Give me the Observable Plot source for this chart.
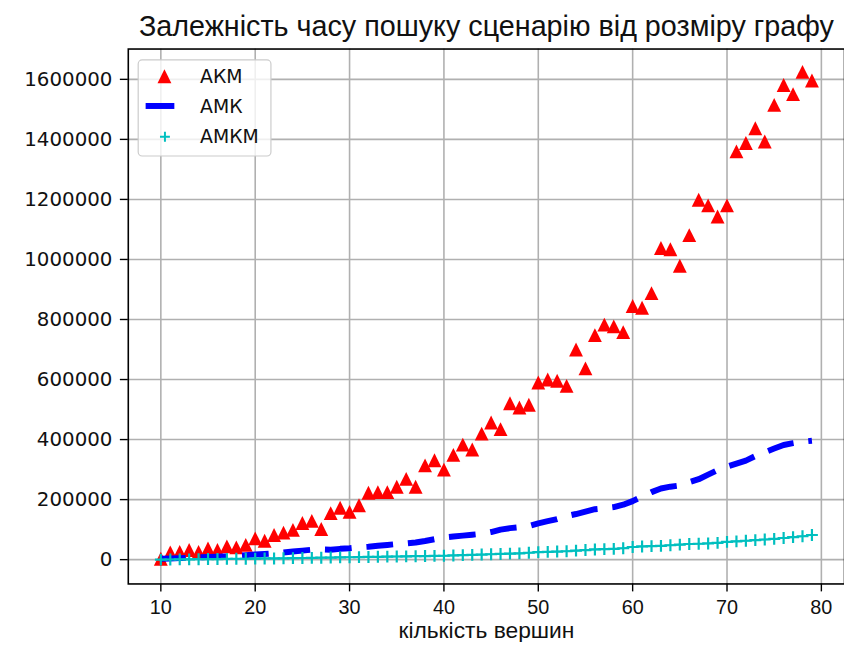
<!DOCTYPE html>
<html><head><meta charset="utf-8">
<script src="https://cdn.jsdelivr.net/npm/d3@7"></script>
<script src="https://cdn.jsdelivr.net/npm/@observablehq/plot@0.6"></script>
<style>
html,body{margin:0;padding:0;background:#fff;overflow:hidden;width:844px;height:648px}
#chart{width:844px;height:648px;overflow:hidden}
</style></head><body><div id="chart"></div>
<script>
const title = "Залежність часу пошуку сценарію від розміру графу";
const xLabel = "кількість вершин";
const seriesNames = ["АКМ", "АМК", "АМКМ"];
const xTicks = [10, 20, 30, 40, 50, 60, 70, 80];
const yTicks = [0, 200000, 400000, 600000, 800000, 1000000, 1200000, 1400000, 1600000];

const vertices = [10,11,12,13,14,15,16,17,18,19,20,21,22,23,24,25,26,27,28,29,
  30,31,32,33,34,35,36,37,38,39,40,41,42,43,44,45,46,47,48,49,
  50,51,52,53,54,55,56,57,58,59,60,61,62,63,64,65,66,67,68,69,
  70,71,72,73,74,75,76,77,78,79];

const akm = [3000,24000,26000,32000,26000,37000,32000,44000,41000,49000,
  71000,63000,82000,90000,99000,122000,129000,102000,155000,173000,
  159000,181000,223000,225000,225000,243000,269000,243000,314000,331000,
  300000,349000,383000,367000,420000,457000,435000,521000,507000,516000,
  590000,600000,596000,579000,700000,637000,748000,783000,777000,758000,
  845000,839000,888000,1038000,1034000,979000,1081000,1199000,1180000,1143000,
  1180000,1360000,1388000,1437000,1393000,1515000,1581000,1551000,1625000,1596000];

const amk = [3000,4000,5000,6000,8000,9000,10000,11000,13000,15000,
  17000,19000,21000,24000,27000,30000,33000,34000,33000,36000,
  38000,41000,43000,46000,49000,52000,54000,57000,62000,68000,
  74000,77000,80000,83000,86000,92000,100000,105000,108000,112000,
  121000,128000,135000,145000,152000,160000,168000,171000,175000,183000,
  195000,210000,225000,237000,243000,247000,258000,268000,283000,298000,
  310000,320000,330000,345000,358000,370000,382000,388000,393000,396000];

const amkm = [0,500,1000,1000,1500,2000,2000,2500,3000,3000,
  3500,4000,4000,4500,5000,5500,6000,6500,7000,7500,
  8000,8500,9000,9500,10000,10500,11000,11500,12000,12500,
  13000,14000,15000,16000,17000,18000,19000,20000,21000,23000,
  25000,26000,27000,28000,30000,32000,34000,35000,36000,38000,
  42000,44000,45000,46000,48000,50000,52000,53000,54000,56000,
  59000,61000,63000,65000,67000,69000,72000,75000,78000,82000];

const rows = vertices.map((v, i) => ({v, akm: akm[i], amk: amk[i], amkm: amkm[i]}));

const RED = "#ff0000", BLUE = "#0000ff", CYAN = "#00bfbf";

// matplotlib-like markers
const triUp = {draw(ctx, size) { const h = Math.sqrt(size) / 2; ctx.moveTo(0, -h); ctx.lineTo(h, h); ctx.lineTo(-h, h); ctx.closePath(); }};
const plusM = {draw(ctx, size) { const h = Math.sqrt(size) / 2; ctx.moveTo(-h, 0); ctx.lineTo(h, 0); ctx.moveTo(0, -h); ctx.lineTo(0, h); }};
const rFor = (px) => Math.sqrt(px * px / Math.PI);
const TRI = 14, PLUS = 12;

const tickFont = "DejaVu Sans, sans-serif";
const xFont = "Liberation Sans, Arial, sans-serif";

const chart = Plot.plot({
  width: 852,
  height: 648,
  marginLeft: 129,
  marginRight: 0,
  marginTop: 49,
  marginBottom: 59,
  style: {fontFamily: tickFont, fontSize: "19px", color: "#111", background: "#fff"},
  x: {domain: [6.55, 82.45], ticks: xTicks},
  y: {domain: [-81000, 1701000], ticks: yTicks},
  marks: [
    Plot.gridX(xTicks, {stroke: "#b0b0b0", strokeOpacity: 1, strokeWidth: 1.6}),
    Plot.gridY(yTicks, {stroke: "#b0b0b0", strokeOpacity: 1, strokeWidth: 1.6}),
    Plot.axisY(yTicks, {tickSize: 8, tickPadding: 8, tickFormat: d3.format("d"), label: null,
      fontFamily: tickFont, fontSize: 20, stroke: "#000", strokeWidth: 1.4}),
    Plot.axisX(xTicks, {tickSize: 8, tickPadding: 8, tickFormat: d3.format("d"), label: null,
      fontFamily: xFont, fontSize: 20, stroke: "#000", strokeWidth: 1.4}),
    Plot.dot(rows, {x: "v", y: "akm", symbol: triUp, r: rFor(TRI), fill: RED, stroke: "none"}),
    Plot.line(rows, {x: "v", y: "amk", stroke: BLUE, strokeWidth: 6, strokeDasharray: "27,15", strokeDashoffset: 2, strokeLinecap: "butt"}),
    Plot.line(rows, {x: "v", y: "amkm", stroke: CYAN, strokeWidth: 1.6}),
    Plot.dot(rows, {x: "v", y: "amkm", symbol: plusM, r: rFor(PLUS), fill: "none", stroke: CYAN, strokeWidth: 2.2}),
    Plot.frame({stroke: "#000", strokeWidth: 1.6}),
    Plot.text([title], {frameAnchor: "top", dy: -22, lineAnchor: "middle", fontFamily: xFont, fontSize: 29, fill: "#111"}),
    Plot.text([xLabel], {frameAnchor: "bottom", dy: 47, lineAnchor: "middle", fontFamily: xFont, fontSize: 23, fill: "#111"})
  ]
});
document.getElementById("chart").append(chart);

// legend (matplotlib-style box)
const svg = d3.select(chart);
const lg = svg.append("g").attr("font-family", tickFont).attr("font-size", 19).attr("text-anchor", "start");
lg.append("rect").attr("x", 139.5).attr("y", 60.5).attr("width", 134).attr("height", 97).attr("rx", 4)
  .attr("fill", "#fff").attr("fill-opacity", 0.8).attr("stroke", "#cccccc").attr("stroke-width", 1.2);
const rowY = [77, 107, 138];
lg.append("path").attr("transform", `translate(166,${rowY[0]})`).attr("d", d3.symbol(triUp, TRI * TRI)()).attr("fill", RED);
lg.append("line").attr("x1", 147).attr("x2", 176).attr("y1", rowY[1]).attr("y2", rowY[1]).attr("stroke", BLUE).attr("stroke-width", 6);
lg.append("path").attr("transform", `translate(166.5,${rowY[2]})`).attr("d", d3.symbol(plusM, 100)()).attr("fill", "none").attr("stroke", CYAN).attr("stroke-width", 2);
seriesNames.forEach((n, i) => {
  lg.append("text").attr("x", 202).attr("y", rowY[i]).attr("dy", "0.35em").attr("text-anchor", "start").attr("fill", "#111").text(n);
});
</script>
</body></html>
